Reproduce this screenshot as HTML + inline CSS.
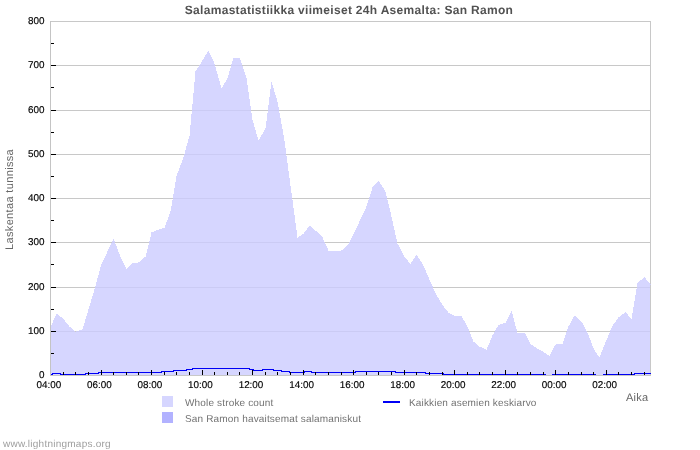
<!DOCTYPE html>
<html><head><meta charset="utf-8"><title>chart</title>
<style>
html,body{margin:0;padding:0;background:#fff;}
body{width:700px;height:450px;position:relative;overflow:hidden;font-family:"Liberation Sans",sans-serif;}
svg{position:absolute;left:0;top:0;}
.title{position:absolute;left:-1px;width:700px;top:2px;text-align:center;font-weight:bold;font-size:12px;line-height:16px;color:#525252;letter-spacing:0.31px;white-space:nowrap;}
.yl{position:absolute;left:0;width:44.4px;text-align:right;font-size:9.9px;line-height:12px;color:#000;-webkit-text-stroke:0.15px #000;}
.xl{position:absolute;top:380px;width:40px;text-align:center;font-size:9.9px;line-height:12px;color:#000;-webkit-text-stroke:0.15px #000;}
.ytitle{position:absolute;left:-0.5px;top:0px;font-size:11px;line-height:12px;color:#666;white-space:nowrap;transform-origin:0 0;transform:translate(4px,250px) rotate(-90deg);letter-spacing:0.35px;}
.aika{position:absolute;left:626px;top:392px;font-size:11px;line-height:12px;color:#666;letter-spacing:0.27px;}
.lg{position:absolute;font-size:10px;line-height:12px;color:#727272;white-space:nowrap;letter-spacing:0.16px;}
.foot{position:absolute;left:3px;top:439px;font-size:10px;line-height:12px;color:#9e9e9e;letter-spacing:0.24px;white-space:nowrap;}
</style></head><body>
<svg width="700" height="450" viewBox="0 0 700 450" shape-rendering="crispEdges">
<rect x="0" y="0" width="700" height="450" fill="#fff"/>
<rect x="50" y="21" width="601" height="1" fill="#c8c8c8"/>
<rect x="650" y="21" width="1" height="355" fill="#c8c8c8"/>
<rect x="51" y="331" width="599" height="1" fill="#c8c8c8"/><rect x="51" y="287" width="599" height="1" fill="#c8c8c8"/><rect x="51" y="242" width="599" height="1" fill="#c8c8c8"/><rect x="51" y="198" width="599" height="1" fill="#c8c8c8"/><rect x="51" y="154" width="599" height="1" fill="#c8c8c8"/><rect x="51" y="110" width="599" height="1" fill="#c8c8c8"/><rect x="51" y="65" width="599" height="1" fill="#c8c8c8"/>
<path d="M50,375 L50,327 L50.50,327.50 L56.50,313.50 L63.50,319.00 L69.50,326.50 L75.50,331.50 L82.50,329.50 L88.50,309.50 L94.50,289.50 L101.50,263.50 L107.50,251.50 L113.50,238.50 L119.50,254.50 L126.50,269.50 L132.50,262.50 L138.50,262.50 L145.50,256.50 L151.50,232.50 L157.50,230.00 L164.50,227.50 L170.50,211.50 L176.50,176.00 L183.50,157.50 L189.50,135.50 L195.50,71.50 L202.50,60.50 L208.50,50.50 L214.50,63.50 L221.50,88.50 L227.50,78.50 L233.50,57.50 L239.50,57.50 L246.50,77.50 L252.50,119.50 L258.50,140.50 L265.50,128.50 L271.50,81.50 L277.50,101.50 L284.50,140.50 L290.50,185.50 L297.50,237.50 L303.50,233.50 L309.50,225.50 L315.50,230.50 L322.50,237.50 L328.50,250.50 L334.50,250.50 L341.50,250.50 L347.50,245.50 L353.50,234.50 L359.50,221.50 L366.50,206.50 L372.50,187.50 L378.50,180.50 L385.50,191.50 L391.50,216.50 L397.50,243.50 L404.50,256.50 L410.50,264.10 L416.50,254.50 L423.50,265.50 L429.50,279.50 L435.50,293.10 L442.50,305.00 L448.50,312.50 L454.50,316.00 L461.50,316.00 L467.50,326.50 L473.50,341.50 L479.50,346.50 L486.50,349.90 L492.50,335.50 L498.50,324.90 L505.50,322.90 L511.50,310.50 L517.50,333.10 L524.50,332.50 L530.50,344.00 L536.50,348.10 L543.50,351.90 L549.50,356.10 L555.50,344.50 L562.50,344.10 L568.50,326.50 L574.50,315.50 L581.50,321.50 L587.50,332.50 L593.50,348.50 L599.50,357.50 L606.50,340.00 L612.50,325.50 L618.50,317.50 L625.50,312.00 L631.50,319.00 L637.50,283.00 L644.50,277.00 L650.50,284.50 L650,284 L650,375 Z" fill="rgb(204,204,255)" fill-opacity="0.8"/>
<rect x="50" y="374" width="3" height="1" fill="#0000f5"/><rect x="52" y="373" width="9" height="1" fill="#0000f5"/><rect x="60" y="374" width="26" height="1" fill="#0000f5"/><rect x="85" y="373" width="14" height="1" fill="#0000f5"/><rect x="98" y="372" width="64" height="1" fill="#0000f5"/><rect x="161" y="371" width="13" height="1" fill="#0000f5"/><rect x="173" y="370" width="14" height="1" fill="#0000f5"/><rect x="186" y="369" width="7" height="1" fill="#0000f5"/><rect x="192" y="368" width="58" height="1" fill="#0000f5"/><rect x="249" y="369" width="5" height="1" fill="#0000f5"/><rect x="253" y="370" width="10" height="1" fill="#0000f5"/><rect x="262" y="369" width="12" height="1" fill="#0000f5"/><rect x="273" y="370" width="9" height="1" fill="#0000f5"/><rect x="281" y="371" width="9" height="1" fill="#0000f5"/><rect x="289" y="372" width="16" height="1" fill="#0000f5"/><rect x="304" y="371" width="8" height="1" fill="#0000f5"/><rect x="311" y="372" width="45" height="1" fill="#0000f5"/><rect x="355" y="371" width="41" height="1" fill="#0000f5"/><rect x="395" y="372" width="31" height="1" fill="#0000f5"/><rect x="425" y="373" width="19" height="1" fill="#0000f5"/><rect x="443" y="374" width="103" height="1" fill="#0000f5"/><rect x="545" y="375" width="8" height="1" fill="#0000f5"/><rect x="552" y="374" width="44" height="1" fill="#0000f5"/><rect x="595" y="375" width="9" height="1" fill="#0000f5"/><rect x="603" y="374" width="32" height="1" fill="#0000f5"/><rect x="634" y="373" width="17" height="1" fill="#0000f5"/>
<rect x="50" y="21" width="1" height="355" fill="#c4c4c4"/>
<rect x="50" y="375" width="601" height="1" fill="#c8c8c8"/>
<rect x="51" y="353" width="3" height="1" fill="#000"/><rect x="51" y="331" width="5" height="1" fill="#000"/><rect x="51" y="309" width="3" height="1" fill="#000"/><rect x="51" y="287" width="5" height="1" fill="#000"/><rect x="51" y="264" width="3" height="1" fill="#000"/><rect x="51" y="242" width="5" height="1" fill="#000"/><rect x="51" y="220" width="3" height="1" fill="#000"/><rect x="51" y="198" width="5" height="1" fill="#000"/><rect x="51" y="176" width="3" height="1" fill="#000"/><rect x="51" y="154" width="5" height="1" fill="#000"/><rect x="51" y="132" width="3" height="1" fill="#000"/><rect x="51" y="110" width="5" height="1" fill="#000"/><rect x="51" y="87" width="3" height="1" fill="#000"/><rect x="51" y="65" width="5" height="1" fill="#000"/><rect x="51" y="43" width="3" height="1" fill="#000"/><rect x="63" y="372" width="1" height="3" fill="#000"/><rect x="75" y="372" width="1" height="3" fill="#000"/><rect x="88" y="372" width="1" height="3" fill="#000"/><rect x="101" y="370" width="1" height="5" fill="#000"/><rect x="113" y="372" width="1" height="3" fill="#000"/><rect x="126" y="372" width="1" height="3" fill="#000"/><rect x="138" y="372" width="1" height="3" fill="#000"/><rect x="151" y="370" width="1" height="5" fill="#000"/><rect x="164" y="372" width="1" height="3" fill="#000"/><rect x="176" y="372" width="1" height="3" fill="#000"/><rect x="189" y="372" width="1" height="3" fill="#000"/><rect x="202" y="370" width="1" height="5" fill="#000"/><rect x="214" y="372" width="1" height="3" fill="#000"/><rect x="227" y="372" width="1" height="3" fill="#000"/><rect x="239" y="372" width="1" height="3" fill="#000"/><rect x="252" y="370" width="1" height="5" fill="#000"/><rect x="265" y="372" width="1" height="3" fill="#000"/><rect x="277" y="372" width="1" height="3" fill="#000"/><rect x="290" y="372" width="1" height="3" fill="#000"/><rect x="303" y="370" width="1" height="5" fill="#000"/><rect x="315" y="372" width="1" height="3" fill="#000"/><rect x="328" y="372" width="1" height="3" fill="#000"/><rect x="341" y="372" width="1" height="3" fill="#000"/><rect x="353" y="370" width="1" height="5" fill="#000"/><rect x="366" y="372" width="1" height="3" fill="#000"/><rect x="378" y="372" width="1" height="3" fill="#000"/><rect x="391" y="372" width="1" height="3" fill="#000"/><rect x="404" y="370" width="1" height="5" fill="#000"/><rect x="416" y="372" width="1" height="3" fill="#000"/><rect x="429" y="372" width="1" height="3" fill="#000"/><rect x="442" y="372" width="1" height="3" fill="#000"/><rect x="454" y="370" width="1" height="5" fill="#000"/><rect x="467" y="372" width="1" height="3" fill="#000"/><rect x="479" y="372" width="1" height="3" fill="#000"/><rect x="492" y="372" width="1" height="3" fill="#000"/><rect x="505" y="370" width="1" height="5" fill="#000"/><rect x="517" y="372" width="1" height="3" fill="#000"/><rect x="530" y="372" width="1" height="3" fill="#000"/><rect x="543" y="372" width="1" height="3" fill="#000"/><rect x="555" y="370" width="1" height="5" fill="#000"/><rect x="568" y="372" width="1" height="3" fill="#000"/><rect x="581" y="372" width="1" height="3" fill="#000"/><rect x="593" y="372" width="1" height="3" fill="#000"/><rect x="606" y="370" width="1" height="5" fill="#000"/><rect x="618" y="372" width="1" height="3" fill="#000"/><rect x="631" y="372" width="1" height="3" fill="#000"/><rect x="644" y="372" width="1" height="3" fill="#000"/>
<rect x="162" y="396" width="11" height="11" fill="#d6d6ff"/>
<rect x="162" y="412" width="11" height="11" fill="#b2b2ff"/>
<rect x="383" y="401" width="17" height="2" fill="#0000f5"/>
</svg>
<div id="txt" style="position:absolute;left:0;top:0;width:700px;height:450px;will-change:transform;text-rendering:geometricPrecision;">
<div class="title">Salamastatistiikka viimeiset 24h Asemalta: San Ramon</div>
<div class="yl" style="top:370px">0</div><div class="yl" style="top:326px">100</div><div class="yl" style="top:282px">200</div><div class="yl" style="top:237px">300</div><div class="yl" style="top:193px">400</div><div class="yl" style="top:149px">500</div><div class="yl" style="top:105px">600</div><div class="yl" style="top:60px">700</div><div class="yl" style="top:16px">800</div><div class="xl" style="left:28.90px">04:00</div><div class="xl" style="left:79.43px">06:00</div><div class="xl" style="left:129.95px">08:00</div><div class="xl" style="left:180.48px">10:00</div><div class="xl" style="left:231.01px">12:00</div><div class="xl" style="left:281.53px">14:00</div><div class="xl" style="left:332.06px">16:00</div><div class="xl" style="left:382.58px">18:00</div><div class="xl" style="left:433.11px">20:00</div><div class="xl" style="left:483.64px">22:00</div><div class="xl" style="left:534.16px">00:00</div><div class="xl" style="left:584.69px">02:00</div>
<div class="ytitle">Laskentaa tunnissa</div>
<div class="aika">Aika</div>
<div class="lg" style="left:185px;top:398px">Whole stroke count</div>
<div class="lg" style="left:185px;top:414px">San Ramon havaitsemat salamaniskut</div>
<div class="lg" style="left:409px;top:398px">Kaikkien asemien keskiarvo</div>
<div class="foot">www.lightningmaps.org</div>
</div>
</body></html>
